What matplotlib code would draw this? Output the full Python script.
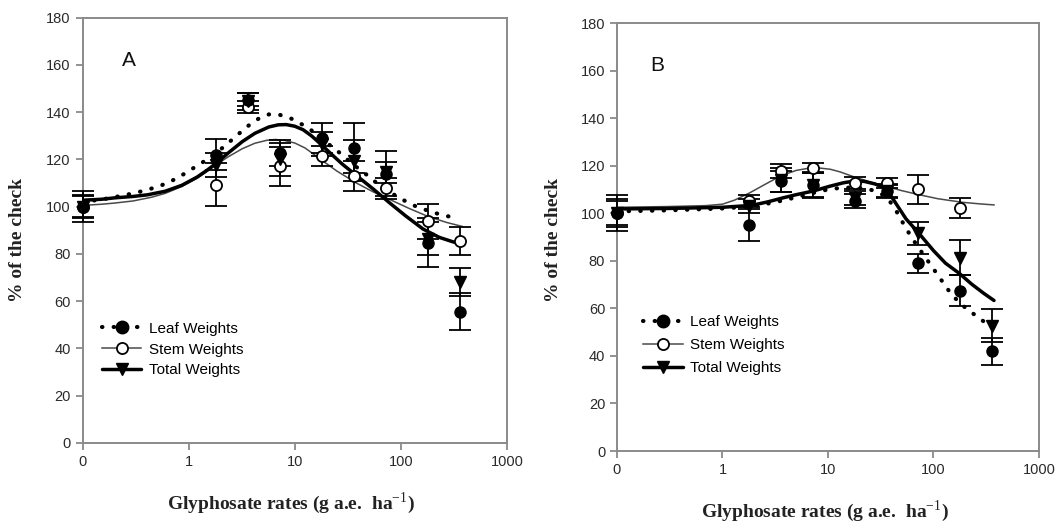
import numpy as np
import matplotlib
matplotlib.use("Agg")
import matplotlib.pyplot as plt
from matplotlib.lines import Line2D

plt.rcParams["mathtext.fontset"] = "custom"
plt.rcParams["mathtext.rm"] = "Liberation Serif"
plt.rcParams["mathtext.bf"] = "Liberation Serif:bold"

# ---------------- data ----------------
rate_labels = ["0", "1", "10", "100", "1000"]
rate_ticks = [0.1, 1, 10, 100, 1000]
zero_pos = 0.1  # where the "0" rate sits on the log axis
rates = [0, 1.8, 3.6, 7.2, 18, 36, 72, 180, 360]

# Panel A observed means and SE
leafA = [100, 122, 145.3, 122.7, 129, 124.8, 114, 84.8, 55.6]
leafA_err = [4.5, 6.6, 2.8, 5.6, 6.4, 10.6, 9.5, 10.5, 7.7]
stemA = [100, 109.3, 142, 117, 121.3, 112.8, 107.8, 93.7, 85.5]
stemA_err = [6.5, 9, 2.5, 8.4, 4.3, 6.4, 4.5, 7.5, 6]
totalA = [100, 117.7, 144.5, 120, 126.5, 119.5, 114.5, 86.5, 68]
totalA_err = [5, 5, 3.5, 7, 5, 8.8, 4.5, 7, 6]

# Panel A fitted curves
leafA_cx = [0.1, 0.15, 0.2, 0.3, 0.4, 0.54, 0.7, 0.92, 1.2, 1.5, 1.8, 2.3, 3, 3.6, 4.2, 5,
            5.7, 7, 9, 11, 14, 18, 22, 26.6, 35, 47.5, 65, 98, 140, 202, 270, 347]
leafA_cy = [102, 103, 104, 105.6, 107, 108.8, 111, 114, 117.3, 120, 122.5, 126.5, 131, 134,
            136.3, 138.2, 139, 139, 137.5, 135.5, 132.6, 129, 125.5, 122.7, 118, 113.5, 108.5,
            103.5, 100, 97.5, 96, 95.2]
totalA_cx = [0.1, 0.15, 0.2, 0.3, 0.41, 0.6, 0.86, 1.2, 1.5, 1.8, 2.3, 3.2, 4.2, 5.7, 7, 8.3,
             10, 12, 14.5, 17.2, 22, 28, 38, 55, 78.7, 110, 162, 230, 300, 373]
totalA_cy = [102.7, 103.1, 103.7, 104.3, 105, 106.5, 109, 112.5, 115.5, 118.2, 122.3, 127.5,
             131, 133.7, 134.6, 134.7, 134, 132.5, 129.8, 126.8, 122.3, 118, 113.2, 107.4,
             101.5, 96.2, 90.5, 87, 85.3, 84]
stemA_cx = [0.1, 0.15, 0.2, 0.3, 0.45, 0.6, 0.86, 1.2, 1.5, 1.8, 2.3, 3.2, 4.2, 5.5, 6.6, 8,
            10, 12.5, 15, 18.5, 25, 38, 55, 78.7, 120, 181, 270, 380]
stemA_cy = [100.5, 101, 101.5, 102.4, 104, 105.6, 108.5, 112, 115, 117.5, 120.8, 124.5, 126.8,
            128.1, 128.4, 128, 126.9, 124.8, 122.2, 119.2, 115, 110, 106.2, 103, 99.2, 95.8,
            93.3, 91.6]

# Panel B observed means and SE
leafB = [100, 95, 113.4, 112, 105, 109.2, 79, 67.5, 42]
leafB_err = [6, 6.7, 4.5, 5, 3, 3, 4, 6.4, 5.7]
stemB = [100, 105, 117.7, 119, 112.7, 112.7, 110, 102.1, np.nan]
stemB_err = [7.5, 2.5, 3, 2.2, 2.5, 2, 6, 4.3, np.nan]
totalB = [100, 103, 114, 112, 106.4, 109.5, 91.5, 81.3, 52.7]
totalB_err = [5, 3, 5, 5.5, 3, 2.5, 5, 7.4, 7]

# Panel B fitted curves
leafB_cx = [0.1, 0.3, 1, 1.8, 2.5, 3.6, 5, 7.2, 10, 14, 21, 27, 33, 38, 45, 55, 65, 73, 90,
            110, 150, 200, 260, 310, 380]
leafB_cy = [100.8, 101.2, 102, 102.8, 103.8, 105.2, 106.7, 108.5, 110, 110.8, 110.6, 109.6,
            107.8, 105.5, 100.5, 93.6, 88.5, 85.2, 79.5, 74, 65.5, 60.3, 56.5, 54, 52]
totalB_cx = [0.1, 0.3, 1, 1.9, 2.7, 3.7, 5, 7.2, 10.3, 14, 17, 22, 28, 33, 38, 45, 55, 73,
             100, 130, 177, 230, 300, 375]
totalB_cy = [101.8, 102, 102.5, 103.3, 104.8, 106.4, 107.8, 109.3, 111.3, 112.8, 113.4, 113.4,
             112.3, 110.9, 108.5, 103.5, 97.6, 91.5, 84.3, 79, 74.6, 70.2, 66.3, 63.3]
stemB_cx = [0.1, 0.3, 0.7, 1, 1.3, 1.8, 2.5, 3.6, 5, 6.5, 8.3, 10.5, 13, 17.1, 25, 35.5, 50,
            73, 110, 188, 280, 375]
stemB_cy = [102.5, 102.8, 103.2, 103.8, 105.5, 108.5, 112, 115.8, 118, 118.9, 119, 118.5,
            117.4, 115.5, 113.2, 111.3, 109.5, 107.8, 106.1, 104.6, 103.9, 103.5]

series_labels = ["Leaf Weights", "Stem Weights", "Total Weights"]

# ---------------- styling ----------------
SPINE = "#8a8a8a"
TICKC = "#2a2a2a"
STEMC = "#4a4a4a"
dot_style = dict(color="k", lw=3.0, linestyle=(0, (0.1, 2.7)), dash_capstyle="round")
thick_style = dict(color="k", lw=2.5, solid_capstyle="round", solid_joinstyle="round")
thin_style = dict(color=STEMC, lw=1.1, solid_joinstyle="round")

fig = plt.figure(figsize=(10.61, 5.24), dpi=100)
axA = fig.add_axes([0.0779, 0.1546, 0.3999, 0.812])
axB = fig.add_axes([0.5815, 0.1393, 0.3977, 0.8168])


def xpos(r):
    return [zero_pos if v == 0 else v for v in r]


def draw(ax, leaf, leaf_e, stem, stem_e, total, total_e, curves, panel, leg_anchor, leg_sp):
    (lcx, lcy), (scx, scy), (tcx, tcy) = curves
    ax.plot(scx, scy, zorder=3, **thin_style)
    ax.plot(tcx, tcy, zorder=3, **thick_style)
    ax.plot(lcx, lcy, zorder=3, **dot_style)
    x = xpos(rates)
    eb = dict(fmt="none", ecolor="k", elinewidth=1.3, capsize=8, capthick=1.3, zorder=4,
              clip_on=False)
    for vals, errs in ((stem, stem_e), (total, total_e), (leaf, leaf_e)):
        ebc = ax.errorbar(x, vals, yerr=errs, **eb)
        for art in list(ebc.lines[1]) + list(ebc.lines[2]):
            art.set_clip_on(False)
    ax.plot(x, stem, ls="none", marker="o", ms=8, mfc="white", mec="k", mew=1.3, zorder=5,
            clip_on=False)
    ax.plot(x, total, ls="none", marker="v", ms=8, mfc="k", mec="k", zorder=6, clip_on=False)
    ax.plot(x, leaf, ls="none", marker="o", ms=8, mfc="k", mec="k", zorder=6, clip_on=False)

    ax.set_xscale("log")
    ax.set_xlim(0.1, 1000)
    ax.set_ylim(0, 180)
    ax.set_xticks(rate_ticks)
    ax.set_xticklabels(rate_labels)
    ax.minorticks_off()
    ax.set_yticks(np.arange(0, 181, 20))
    for s in ax.spines.values():
        s.set_color(SPINE)
        s.set_linewidth(1.4)
    ax.tick_params(axis="both", direction="out", length=5, width=1.3, color=SPINE,
                   labelsize=10.5, labelcolor=TICKC, top=False, right=False)
    for lab in ax.get_xticklabels() + ax.get_yticklabels():
        lab.set_family("Liberation Sans")

    handles = [
        Line2D([], [], marker="o", ms=9, mfc="k", mec="k", **dot_style),
        Line2D([], [], marker="o", ms=8, mfc="white", mec="k", mew=1.3, **thin_style),
        Line2D([], [], marker="v", ms=8, mfc="k", mec="k", **thick_style),
    ]
    ax.legend(handles, series_labels, loc="upper left", bbox_to_anchor=leg_anchor,
              frameon=False, borderpad=0, borderaxespad=0, handlelength=2.6,
              handletextpad=0.5, labelspacing=leg_sp,
              prop={"family": "Liberation Sans", "size": 11})
    ax.text(0.11 if panel == "A" else 0.095, 0.9, panel,
            transform=ax.transAxes, fontsize=15, family="Liberation Sans",
            ha="center", va="center", color="#111111")


draw(axA, leafA, leafA_err, stemA, stemA_err, totalA, totalA_err,
     [(leafA_cx, leafA_cy), (stemA_cx, stemA_cy), (totalA_cx, totalA_cy)], "A",
     (0.045, 0.285), 0.45)
draw(axB, leafB, leafB_err, stemB, stemB_err, totalB, totalB_err,
     [(leafB_cx, leafB_cy), (stemB_cx, stemB_cy), (totalB_cx, totalB_cy)], "B",
     (0.062, 0.318), 0.6)

lab_font = dict(family="Liberation Serif", fontweight="bold", fontsize=14, color="#222222")
xlabel = r"Glyphosate rates (g a.e.  ha$^{\mathrm{-1}}$)"
fig.text(18 / 1061, 1 - 240 / 524, "% of the check", rotation=90, ha="center", va="center", **lab_font)
fig.text(553 / 1061, 1 - 240 / 524, "% of the check", rotation=90, ha="center", va="center", **lab_font)
fig.text(291 / 1061, 1 - 503 / 524, xlabel, ha="center", va="center", **lab_font)
fig.text(825 / 1061, 1 - 511 / 524, xlabel, ha="center", va="center", **lab_font)

fig.savefig("out.png", dpi=100)
